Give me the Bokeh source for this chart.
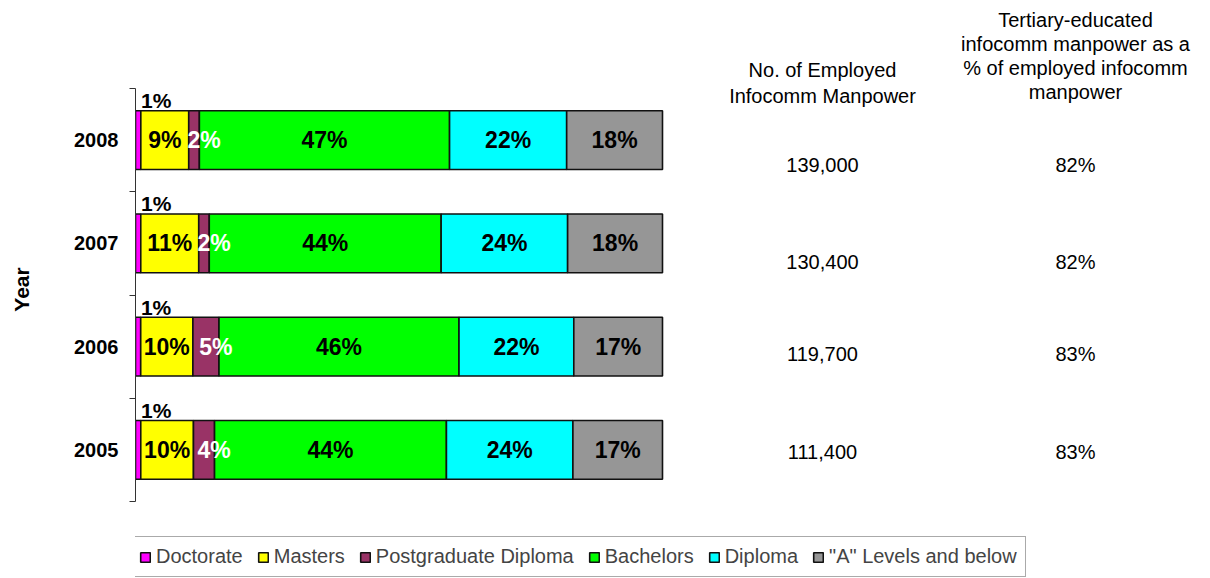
import numpy as np
from bokeh.plotting import figure
from bokeh.models import Range1d, FixedTicker, Legend, LegendItem, LinearAxis, Grid
from bokeh.core.properties import value
from bokeh.embed import file_html
from bokeh.resources import INLINE

# ---- data ----
years = ["2005", "2006", "2007", "2008"]
doctorate = [1, 1, 1, 1]
masters = [10, 10, 11, 9]
pg_diploma = [4, 5, 2, 2]
bachelors = [44, 46, 44, 47]
diploma = [24, 22, 24, 22]
a_levels = [17, 17, 18, 18]
employed = ["111,400", "119,700", "130,400", "139,000"]
tertiary_pct = ["83%", "83%", "82%", "82%"]
series_names = ["Doctorate", "Masters", "Postgraduate Diploma", "Bachelors",
                "Diploma", "\"A\" Levels and below"]
header_employed = "No. of Employed\nInfocomm Manpower"
header_tertiary = "Tertiary-educated\ninfocomm manpower as a\n% of employed infocomm\nmanpower"

# ---- style ----
colors = ["#FF00FF", "#FFFF00", "#993366", "#00FF00", "#00FFFF", "#969696"]
label_colors = ["black", "black", "white", "black", "black", "black"]
FONT = value("Liberation Sans")

W, H = 1194, 578
LEFT = 135
PX_PER_UNIT_X = 5.27      # px per percent
PX_PER_CAT = 103.25       # px per category
AX_TOP = 88
AX_BOT = AX_TOP + 4 * PX_PER_CAT
x_end = (W - LEFT) / PX_PER_UNIT_X
y_start = -(H - AX_BOT) / PX_PER_CAT
y_end = 4 + AX_TOP / PX_PER_CAT

p = figure(width=W, height=H, output_backend="svg", toolbar_location=None,
           x_range=Range1d(0, x_end), y_range=Range1d(y_start, y_end),
           min_border_left=LEFT, min_border_right=0, min_border_top=0,
           min_border_bottom=0, x_axis_location=None, y_axis_location=None)
p.outline_line_color = None
p.background_fill_color = "white"
p.border_fill_color = "white"
for g in p.select(type=Grid):
    g.visible = False

raw = np.array([doctorate, masters, pg_diploma, bachelors, diploma, a_levels], float)
norm = raw / raw.sum(axis=0) * 100
right = norm.cumsum(axis=0)
left = right - norm
ypos = np.arange(len(years)) + 0.5
BAR_H = 0.57

renderers = []
for i in range(len(series_names)):
    r = p.hbar(y=ypos, left=left[i], right=right[i], height=BAR_H,
               fill_color=colors[i], line_color="#111111", line_width=1.6)
    renderers.append(r)

# segment labels
for i in range(1, len(series_names)):
    mids = (left[i] + right[i]) / 2
    p.text(x=mids, y=ypos, text=[f"{int(v)}%" for v in raw[i]],
           text_align="center", text_baseline="middle",
           x_offset=10 if i == 2 else 0,
           text_font=FONT, text_font_style="bold", text_font_size="23px",
           text_color=label_colors[i])

# doctorate labels above bar
mids0 = (left[0] + right[0]) / 2
p.text(x=mids0, y=ypos + BAR_H / 2, text=[f"{int(v)}%" for v in raw[0]],
       text_align="center", text_baseline="alphabetic", x_offset=18, y_offset=-10,
       text_font=FONT, text_font_style="bold", text_font_size="21px",
       text_color="black")

# table columns
COL1_X = (822 - 135) / PX_PER_UNIT_X
COL2_X = (1075 - 135) / PX_PER_UNIT_X
table_offsets = [2, 7, 19, 25]
p.text(x=[COL1_X] * 4, y=ypos, text=employed, y_offset=table_offsets,
       text_align="center", text_baseline="middle",
       text_font=FONT, text_font_size="20px", text_color="black")
p.text(x=[COL2_X] * 4, y=ypos, text=tertiary_pct, y_offset=table_offsets,
       text_align="center", text_baseline="middle",
       text_font=FONT, text_font_size="20px", text_color="black")
p.text(x=[COL1_X], y=[4], text=[header_employed], y_offset=-30,
       text_align="center", text_baseline="top", text_line_height=1.2,
       text_font=FONT, text_font_size="20px", text_color="black")
p.text(x=[COL2_X], y=[4], text=[header_tertiary], y_offset=-80,
       text_align="center", text_baseline="top", text_line_height=1.1,
       text_font=FONT, text_font_size="20px", text_color="black")

# y axis
yaxis = LinearAxis(bounds=(0, 4),
                   ticker=FixedTicker(ticks=list(ypos), minor_ticks=[0, 1, 2, 3, 4]),
                   major_label_overrides={float(y): yr for y, yr in zip(ypos, years)},
                   major_tick_out=0, major_tick_in=0, minor_tick_out=6, minor_tick_in=0,
                   major_label_standoff=11,
                   axis_line_color="#333333", minor_tick_line_color="#333333",
                   major_label_text_font="Liberation Sans",
                   major_label_text_font_style="bold",
                   major_label_text_font_size="20px",
                   major_label_text_color="black",
                   axis_label="Year", axis_label_standoff=38,
                   axis_label_text_font="Liberation Sans",
                   axis_label_text_font_style="bold",
                   axis_label_text_font_size="21px",
                   axis_label_text_color="black")
p.add_layout(yaxis, "left")

legend = Legend(items=[LegendItem(label=n, renderers=[r]) for n, r in zip(series_names, renderers)],
                orientation="horizontal", location=(-5, 1),
                glyph_width=12, glyph_height=12, label_standoff=5, spacing=14,
                padding=8, margin=0, label_height=20,
                label_text_font="Liberation Sans", label_text_font_size="20px",
                border_line_color="#555555", border_line_width=1,
                background_fill_color="white", background_fill_alpha=1)
p.add_layout(legend)

open("out.html", "w").write(file_html(p, INLINE))
